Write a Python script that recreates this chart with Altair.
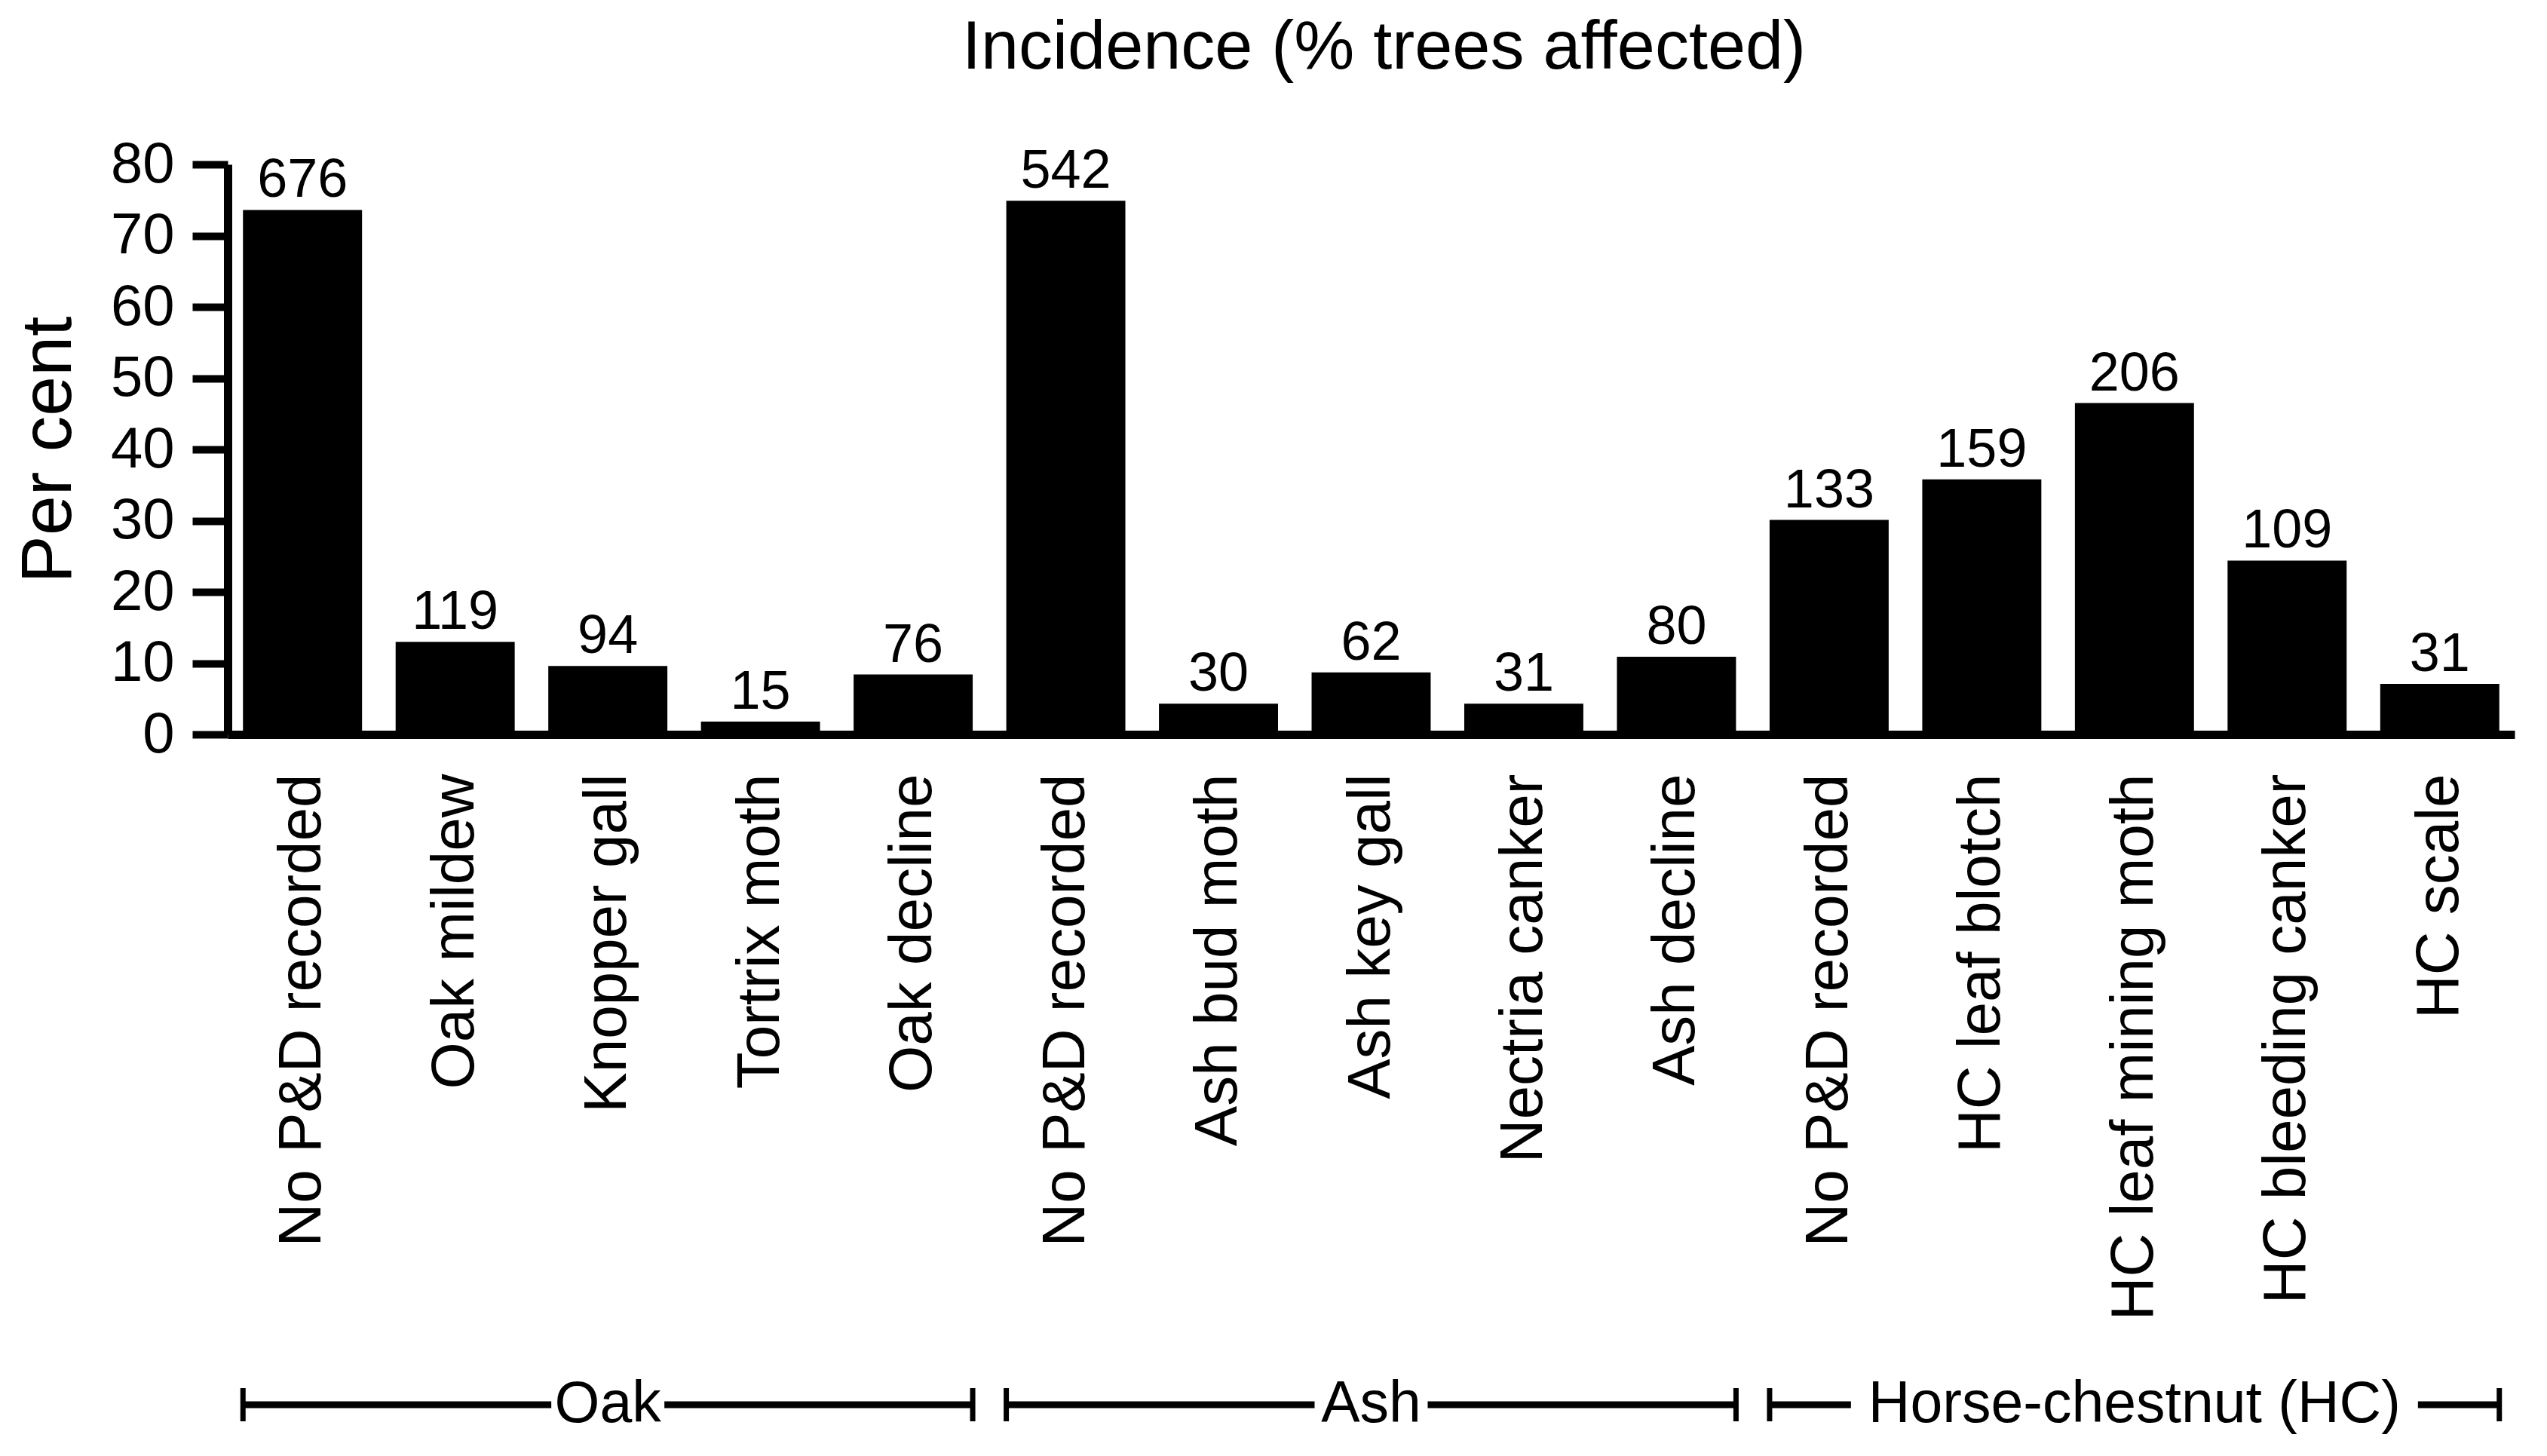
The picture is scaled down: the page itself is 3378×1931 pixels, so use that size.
import altair as alt
import pandas as pd

FONT = "Liberation Sans"

groups = ["Oak"] * 5 + ["Ash"] * 5 + ["Horse-chestnut (HC)"] * 5
categories = [
    "No P&D recorded", "Oak mildew", "Knopper gall", "Tortrix moth", "Oak decline",
    "No P&D recorded", "Ash bud moth", "Ash key gall", "Nectria canker", "Ash decline",
    "No P&D recorded", "HC leaf blotch", "HC leaf mining moth", "HC bleeding canker", "HC scale",
]
percent = [73.6, 13.0, 9.6, 1.8, 8.4, 74.9, 4.3, 8.7, 4.3, 10.9, 30.1, 35.8, 46.5, 24.4, 7.1]
counts = [676, 119, 94, 15, 76, 542, 30, 62, 31, 80, 133, 159, 206, 109, 31]
group_names = ["Oak", "Ash", "Horse-chestnut (HC)"]
y_ticks = [0, 10, 20, 30, 40, 50, 60, 70, 80]

keys = [f"{g}|{c}" for g, c in zip(groups, categories)]
df = pd.DataFrame({"key": keys, "group": groups, "category": categories,
                   "percent": percent, "count": counts})

grp_rows = []
for g in group_names:
    ks = [k for k, gg in zip(keys, groups) if gg == g]
    grp_rows.append({"group": g, "first": ks[0], "last": ks[-1], "mid": ks[len(ks) // 2]})
gdf = pd.DataFrame(grp_rows)

W, H = 3033, 756
BR_Y = 1645
GAP_W = {"Oak": 150, "Ash": 150, "Horse-chestnut (HC)": 752}

xscale = alt.Scale(domain=keys, paddingInner=0.22, paddingOuter=0.1)
yscale = alt.Scale(domain=[0, 80], nice=False)

x_axis = alt.Axis(
    title=None, labelAngle=-90, labelAlign="right", labelBaseline="middle",
    labelFontSize=80, labelFont=FONT, labelColor="black", labelPadding=52,
    labelLimit=0, ticks=False, domainColor="black", domainWidth=11,
    labelExpr="split(datum.label, '|')[1]", grid=False,
)
y_axis = alt.Axis(
    title="Per cent", titleFontSize=95, titleFont=FONT, titleFontWeight="normal",
    titleColor="black", titleX=-238, titleY=H / 2, titleAngle=-90,
    titleAlign="center", titleBaseline="middle",
    values=y_ticks, labelFontSize=76, labelFont=FONT, labelColor="black",
    labelPadding=24, tickSize=47, tickWidth=10, tickColor="black",
    domainColor="black", domainWidth=11, grid=False,
)

base = alt.Chart(df)
bars = base.mark_bar(color="black").encode(
    x=alt.X("key:N", sort=keys, scale=xscale, axis=x_axis),
    y=alt.Y("percent:Q", scale=yscale, axis=y_axis),
)
vals = base.mark_text(baseline="alphabetic", dy=-17, fontSize=72, font=FONT, color="black").encode(
    x=alt.X("key:N", sort=keys),
    y=alt.Y("percent:Q"),
    text=alt.Text("count:Q"),
)

gbase = alt.Chart(gdf)
line = gbase.mark_rule(color="black", strokeWidth=9).encode(
    x=alt.X("first:N", sort=keys, bandPosition=0),
    x2=alt.X2("last", bandPosition=1),
    y=alt.value(BR_Y),
)
cap_l = gbase.mark_rule(color="black", strokeWidth=7).encode(
    x=alt.X("first:N", sort=keys, bandPosition=0),
    y=alt.value(BR_Y - 22), y2=alt.value(BR_Y + 22),
)
cap_r = gbase.mark_rule(color="black", strokeWidth=7).encode(
    x=alt.X("last:N", sort=keys, bandPosition=1),
    y=alt.value(BR_Y - 22), y2=alt.value(BR_Y + 22),
)
gaps = [
    gbase.transform_filter(alt.datum.group == g).mark_bar(color="white", width=GAP_W[g]).encode(
        x=alt.X("mid:N", sort=keys),
        y=alt.value(BR_Y - 15), y2=alt.value(BR_Y + 15),
    )
    for g in group_names
]
glabel = gbase.mark_text(fontSize=77, font=FONT, baseline="middle", color="black").encode(
    x=alt.X("mid:N", sort=keys, bandPosition=0.5),
    y=alt.value(BR_Y), text="group:N",
)

chart = alt.layer(bars, vals, line, cap_l, cap_r, *gaps, glabel).properties(
    width=W, height=H,
    background="white",
    title=alt.TitleParams("Incidence (% trees affected)", fontSize=90, font=FONT,
                          fontWeight="normal", color="black", anchor="middle",
                          frame="group", baseline="alphabetic", offset=-1, dx=17),
    autosize=alt.AutoSizeParams(type="none"),
    padding={"left": 294, "top": 210, "right": 30, "bottom": 940},
).configure_view(stroke=None)

chart.save("out.html", embed_options={"renderer": "svg", "actions": False})
